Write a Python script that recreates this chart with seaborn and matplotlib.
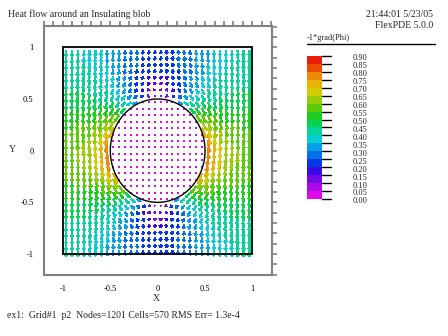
import numpy as np
import matplotlib
matplotlib.use("Agg")
import matplotlib.pyplot as plt
import seaborn as sns
import pandas as pd
from matplotlib.colors import ListedColormap, BoundaryNorm
from matplotlib.patches import Circle, Rectangle

# ---------------- data / text ----------------
title = "Heat flow around an Insulating blob"
stamp_time = "21:44:01 5/23/05"
stamp_ver = "FlexPDE 5.0.0"
footer = "ex1:  Grid#1  p2  Nodes=1201 Cells=570 RMS Err= 1.3e-4"
legend_title = "-1*grad(Phi)"
x_label = "X"
y_label = "Y"

level_labels = ["0.90", "0.85", "0.80", "0.75", "0.70", "0.65", "0.60", "0.55",
                "0.50", "0.45", "0.40", "0.35", "0.30", "0.25", "0.20", "0.15",
                "0.10", "0.05", "0.00"]
levels = [0.00, 0.05, 0.10, 0.15, 0.20, 0.25, 0.30, 0.35, 0.40, 0.45,
          0.50, 0.55, 0.60, 0.65, 0.70, 0.75, 0.80, 0.85, 0.90]
# colours from low (0.00-0.05) to high (0.85-0.90)
level_colors = ["#E00AE8", "#AA0AE8", "#720AE6", "#3A0AE6", "#0638E8", "#0670E8",
                "#069EE6", "#06CED2", "#06D29A", "#06D254", "#20CC20", "#5CCC0A",
                "#9ACC0A", "#D2CC06", "#E8B206", "#EB8A06", "#EC4A06", "#E81E0A"]

x_tick_values = [-1.0, -0.5, 0.0, 0.5, 1.0]
x_tick_labels = ["-1", "-0.5", "0", "0.5", "1"]
y_tick_values = [-1.0, -0.5, 0.0, 0.5, 1.0]
y_tick_labels = ["-1", "-0.5", "0", "0.5", "1"]

# physical set-up
domain_half = 1.0        # square box [-1,1] x [-1,1]
blob_radius = 0.5        # insulating circular blob at the origin
far_flux = 0.41          # background flux magnitude (corner colour)
grid_n = 32              # arrows per row / column

# ---------------- field (flow around insulating blob, walls by images) ----------------
centers = -domain_half + (2 * domain_half / grid_n) * (np.arange(grid_n) + 0.5)
GX, GY = np.meshgrid(centers, centers)
z = GX + 1j * GY
zeta = 1j * z                     # rotate so that flow (downward) is along +real
s = np.zeros_like(zeta)
N = 6
for m in range(-N, N + 1):
    for n in range(-N, N + 1):
        zk = 1j * (2 * m + 2j * n)
        s += blob_radius ** 2 / (zeta - zk) ** 2
W = far_flux * (1 - s)
vel = -1j * np.conj(W)
FU = vel.real
FV = vel.imag
inside = np.abs(z) < blob_radius
mag = np.hypot(FU, FV)

df = pd.DataFrame({"x": GX.ravel(), "y": GY.ravel(), "u": FU.ravel(),
                   "v": FV.ravel(), "mag": mag.ravel(), "inside": inside.ravel()})
out = df[~df["inside"]]
ins = df[df["inside"]]

# ---------------- figure ----------------
sns.set_style("white")
plt.rcParams["font.family"] = ["Liberation Serif", "DejaVu Serif"]
fig = plt.figure(figsize=(4.48, 3.36), dpi=100)

W_px, H_px = 448, 336
ax_l, ax_r, ax_t, ax_b = 44, 272, 25.7, 274.7
ax = fig.add_axes([ax_l / W_px, 1 - ax_b / H_px, (ax_r - ax_l) / W_px, (ax_b - ax_t) / H_px])

cmap = ListedColormap(level_colors)
norm = BoundaryNorm(levels, cmap.N, clip=True)

ax.quiver(out["x"], out["y"], out["u"], out["v"], np.clip(out["mag"], 0, 0.899),
          cmap=cmap, norm=norm, pivot="tail", units="dots", width=1.2,
          scale_units="dots", scale=0.068, headwidth=2.7, headlength=1.6,
          headaxislength=1.6, angles="uv", antialiased=False, zorder=3)
sns.scatterplot(data=ins, x="x", y="y", ax=ax, color=level_colors[0], s=1.8,
                marker="s", linewidth=0, legend=False, zorder=3)

ax.add_patch(Rectangle((-1, -1), 2, 2, fill=False, ec="black", lw=1.3, zorder=4))
ax.add_patch(Circle((0, 0), blob_radius, fill=False, ec="black", lw=1.0, zorder=4))

ax.set_xlim(-1.193, 1.207)
ax.set_ylim(-1.197, 1.209)

ticks = np.round(np.arange(-1.2, 1.2001, 0.1), 2)
def lab(vals, labels, t):
    for v, l in zip(vals, labels):
        if abs(v - t) < 1e-6:
            return l
    return ""
ax.set_xticks(ticks)
ax.set_xticklabels([lab(x_tick_values, x_tick_labels, t) for t in ticks])
ax.set_yticks(ticks)
ax.set_yticklabels([lab(y_tick_values, y_tick_labels, t) for t in ticks])
ax.tick_params(axis="both", which="both", direction="out", length=3.5, width=1.2,
               color="#808080", labelsize=6, pad=4, top=True, right=True,
               labeltop=False, labelright=False, labelcolor="black")
ax.set_xlabel("")
ax.set_ylabel("")
for sp in ax.spines.values():
    sp.set_color("#808080")
    sp.set_linewidth(1.5)
    sp.set_visible(True)
ax.set_facecolor("white")

# ---------------- overlay (texts, legend) ----------------
ov = fig.add_axes([0, 0, 1, 1], zorder=10)
ov.set_xlim(0, W_px)
ov.set_ylim(H_px, 0)
ov.axis("off")
ov.patch.set_alpha(0)

ov.text(8, 16.7, title, fontsize=7, ha="left", va="baseline")
ov.text(433, 16.7, stamp_time, fontsize=7, ha="right", va="baseline")
ov.text(433, 27.5, stamp_ver, fontsize=7, ha="right", va="baseline")
ov.text(7.3, 317.5, footer, fontsize=7, ha="left", va="baseline")
ov.text(156.7, 298.3, x_label, fontsize=7, ha="center", va="center")
ov.text(12, 150, y_label, fontsize=7, ha="center", va="center")

ov.text(306.7, 39.5, legend_title, fontsize=6, ha="left", va="baseline")
ov.plot([306.7, 435], [44.3, 44.3], color="black", lw=1)

top_y, step = 56.0, 7.94
for i, col in enumerate(reversed(level_colors)):
    ov.add_patch(Rectangle((306.7, top_y + i * step), 15, step, color=col, lw=0))
for i, lbl in enumerate(level_labels):
    yy = top_y + i * step
    ov.plot([322, 331], [yy, yy], color="black", lw=1)
    ov.text(353, yy + 2.5, lbl, fontsize=6, ha="left", va="center")

fig.savefig("out.png", dpi=100)
